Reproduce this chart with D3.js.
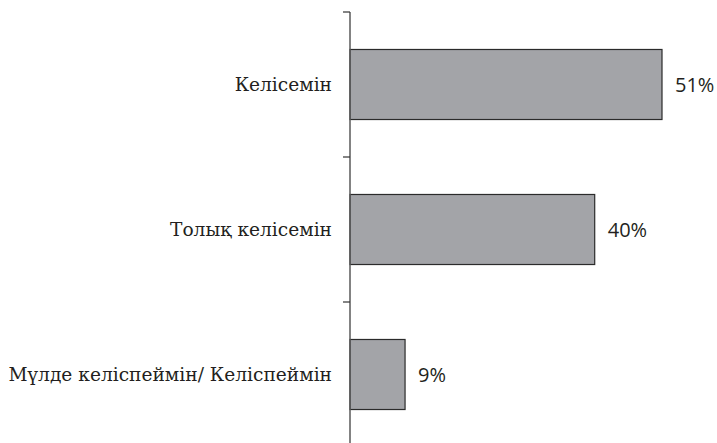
<!DOCTYPE html>
<html>
<head>
<meta charset="utf-8">
<script src="https://cdn.jsdelivr.net/npm/d3@7"></script>
<style>
    body { margin: 0; background: #fff; }
    .cat { font-family: "DejaVu Serif", serif; font-size: 18.6px; fill: #231f20; }
    .val { font-family: "Open Sans", "Noto Sans", sans-serif; font-size: 20px; fill: #231f20; }
</style>
</head>
<body>
<svg></svg>
<script>
'use strict';

var categories = ["Келісемін", "Толық келісемін", "Мүлде келіспеймін/ Келіспеймін"];
var values = [51, 40, 9];
var valueLabels = ["51%", "40%", "9%"];

var width = 717;
var height = 443;
var margin = {top: 12, left: 350};

var svg = d3.select("svg")
    .attr("width", width)
    .attr("height", height);

var y = d3.scaleBand()
    .domain(categories)
    .range([margin.top, margin.top + 145 * categories.length])
    .paddingInner(0.517)
    .paddingOuter(0.2585);

var x = d3.scaleLinear()
    .domain([0, 51])
    .range([margin.left, 662]);

// bars
svg.selectAll(".bar")
    .data(values)
    .enter()
    .append("rect")
    .attr("class", "bar")
    .attr("x", x(0))
    .attr("y", function (d, i) { return y(categories[i]); })
    .attr("width", function (d) { return x(d) - x(0); })
    .attr("height", y.bandwidth())
    .style("fill", "#a3a4a8")
    .style("stroke", "#2b2b2b")
    .style("stroke-width", 1.2);

// value labels
svg.selectAll(".val")
    .data(values)
    .enter()
    .append("text")
    .attr("class", "val")
    .attr("x", function (d) { return x(d) + 13; })
    .attr("y", function (d, i) { return y(categories[i]) + y.bandwidth() / 2; })
    .attr("dy", "0.36em")
    .text(function (d, i) { return valueLabels[i]; });

// category labels
svg.selectAll(".cat")
    .data(categories)
    .enter()
    .append("text")
    .attr("class", "cat")
    .attr("x", margin.left - 18)
    .attr("y", function (d) { return y(d) + y.bandwidth() / 2; })
    .attr("dy", "0.36em")
    .attr("text-anchor", "end")
    .text(function (d) { return d; });

// axis line with ticks on band boundaries
var axisG = svg.append("g");
axisG.append("line")
    .attr("x1", margin.left).attr("x2", margin.left)
    .attr("y1", margin.top).attr("y2", height)
    .style("stroke", "#5a5a5a")
    .style("stroke-width", 1.5);

var bounds = categories.map(function (c, i) { return margin.top + 145 * i; });
axisG.selectAll(".tick")
    .data(bounds)
    .enter()
    .append("line")
    .attr("x1", margin.left - 7).attr("x2", margin.left)
    .attr("y1", function (d) { return d; })
    .attr("y2", function (d) { return d; })
    .style("stroke", "#333")
    .style("stroke-width", 1.2);
</script>
</body>
</html>
